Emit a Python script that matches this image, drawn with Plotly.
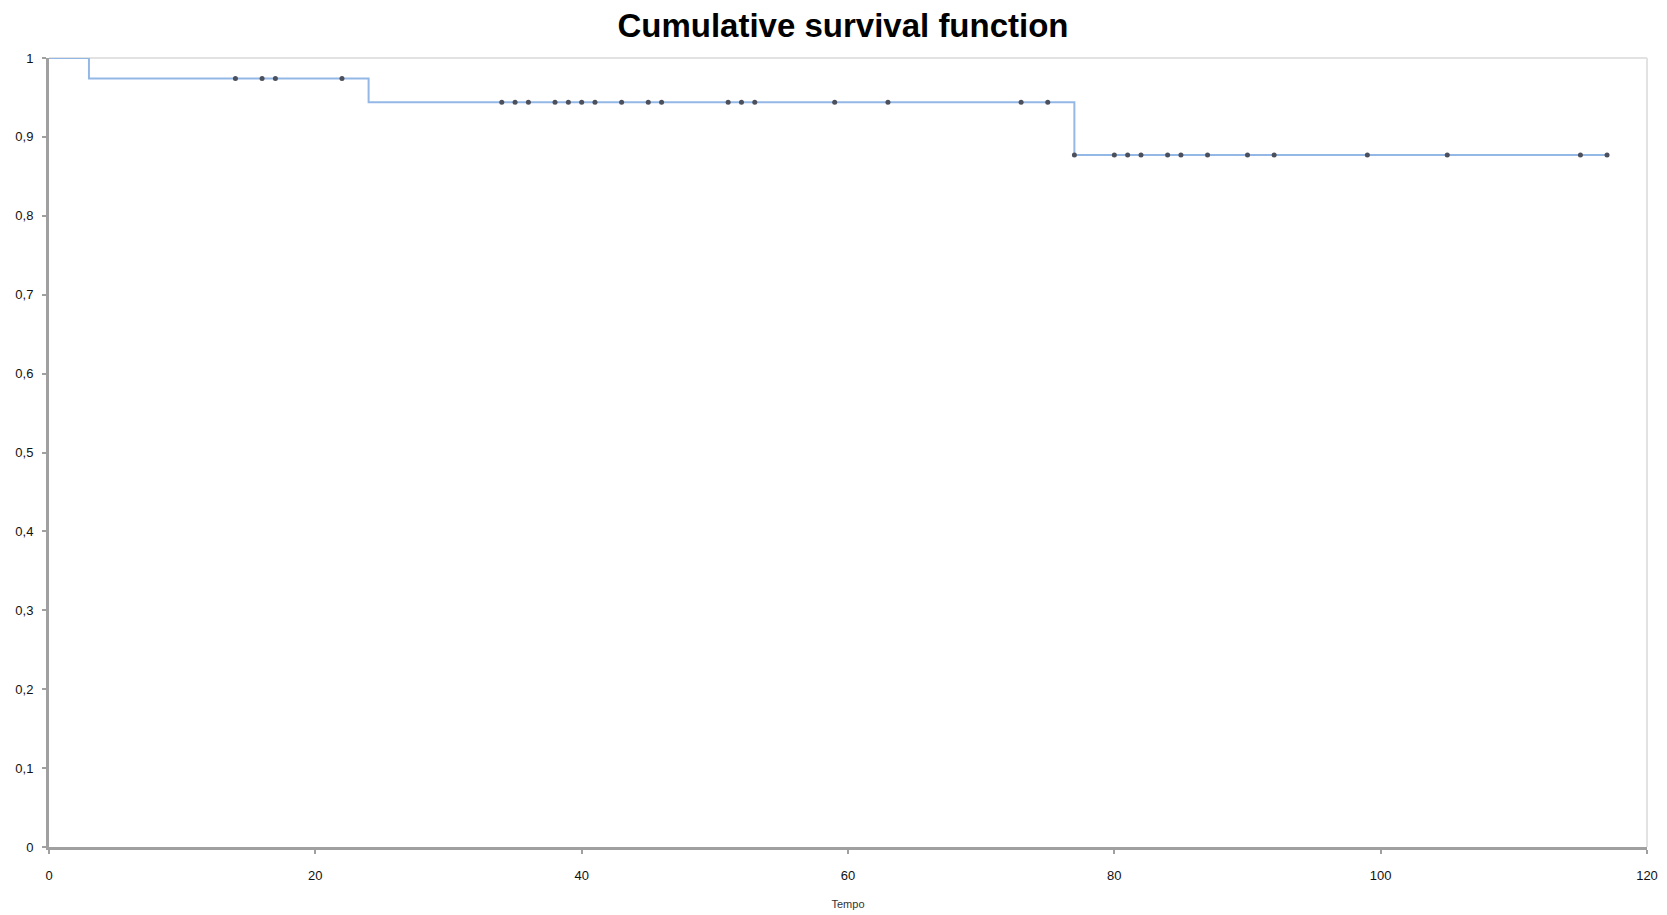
import plotly.graph_objects as go

# --- data ---
step_times = [0, 3, 24, 77, 120]
step_surv = [1.0, 0.974, 0.944, 0.877, 0.877]
censored_times = [14, 16, 17, 22,
                  34, 35, 36, 38, 39, 40, 41, 43, 45, 46, 51, 52, 53, 59, 63, 73, 75,
                  77, 80, 81, 82, 84, 85, 87, 90, 92, 99, 105, 115, 117]
line_end = 117
x_ticks = [0, 20, 40, 60, 80, 100, 120]
y_ticks = [0, 0.1, 0.2, 0.3, 0.4, 0.5, 0.6, 0.7, 0.8, 0.9, 1]
y_ticktext = ["0", "0,1", "0,2", "0,3", "0,4", "0,5", "0,6", "0,7", "0,8", "0,9", "1"]


def surv_at(t):
    s = step_surv[0]
    for tt, ss in zip(step_times, step_surv):
        if t >= tt:
            s = ss
    return s


line_x = [t for t in step_times if t < line_end] + [line_end]
line_y = [surv_at(t) for t in line_x]
cens_y = [surv_at(t) for t in censored_times]

fig = go.Figure()
fig.add_trace(go.Scatter(x=line_x, y=line_y, mode="lines", line_shape="hv",
                         line=dict(color="#93b8e6", width=2), showlegend=False))
fig.add_trace(go.Scatter(x=censored_times, y=cens_y, mode="markers",
                         marker=dict(color="#4b505c", size=5, symbol="circle"),
                         showlegend=False))

axis_font = dict(family="Liberation Sans, Arial, sans-serif", size=13, color="#111111")

# the page body adds an 8px offset, so the figure is 8px smaller than the window
fig.update_layout(
    width=1659, height=907,
    margin=dict(l=41, r=20, t=50, b=68, autoexpand=False),
    paper_bgcolor="white", plot_bgcolor="white",
    title=dict(text="<b>Cumulative survival function</b>", x=0.5033, xanchor="center",
               y=0.981, yanchor="middle",
               font=dict(family="Liberation Sans, Arial, sans-serif",
                         size=33, color="#000000")),
    xaxis=dict(range=[0, 120], tickvals=x_ticks, showgrid=False, zeroline=False,
               showline=True, linecolor="#a0a0a0", linewidth=3,
               ticks="outside", ticklen=4, tickcolor="#a0a0a0", tickwidth=2,
               tickfont=axis_font, automargin=False, ticklabelstandoff=10,
               title=dict(text="Tempo", font=dict(family="Liberation Sans, Arial, sans-serif",
                                                  size=11, color="#333333"), standoff=19)),
    yaxis=dict(range=[0, 1], tickvals=y_ticks, ticktext=y_ticktext, showgrid=False,
               zeroline=False, showline=True, linecolor="#a0a0a0", linewidth=3,
               ticks="outside", ticklen=4, tickcolor="#a0a0a0", tickwidth=2,
               tickfont=axis_font, automargin=False, ticklabelstandoff=6),
)

# light frame on top and right, like the reference
fig.add_shape(type="line", xref="paper", yref="paper", x0=0, x1=1, y0=1, y1=1,
              line=dict(color="#e2e2e2", width=2), layer="below")
fig.add_shape(type="line", xref="paper", yref="paper", x0=1, x1=1, y0=0, y1=1,
              line=dict(color="#e2e2e2", width=2), layer="below")

fig.write_html("out.html")
